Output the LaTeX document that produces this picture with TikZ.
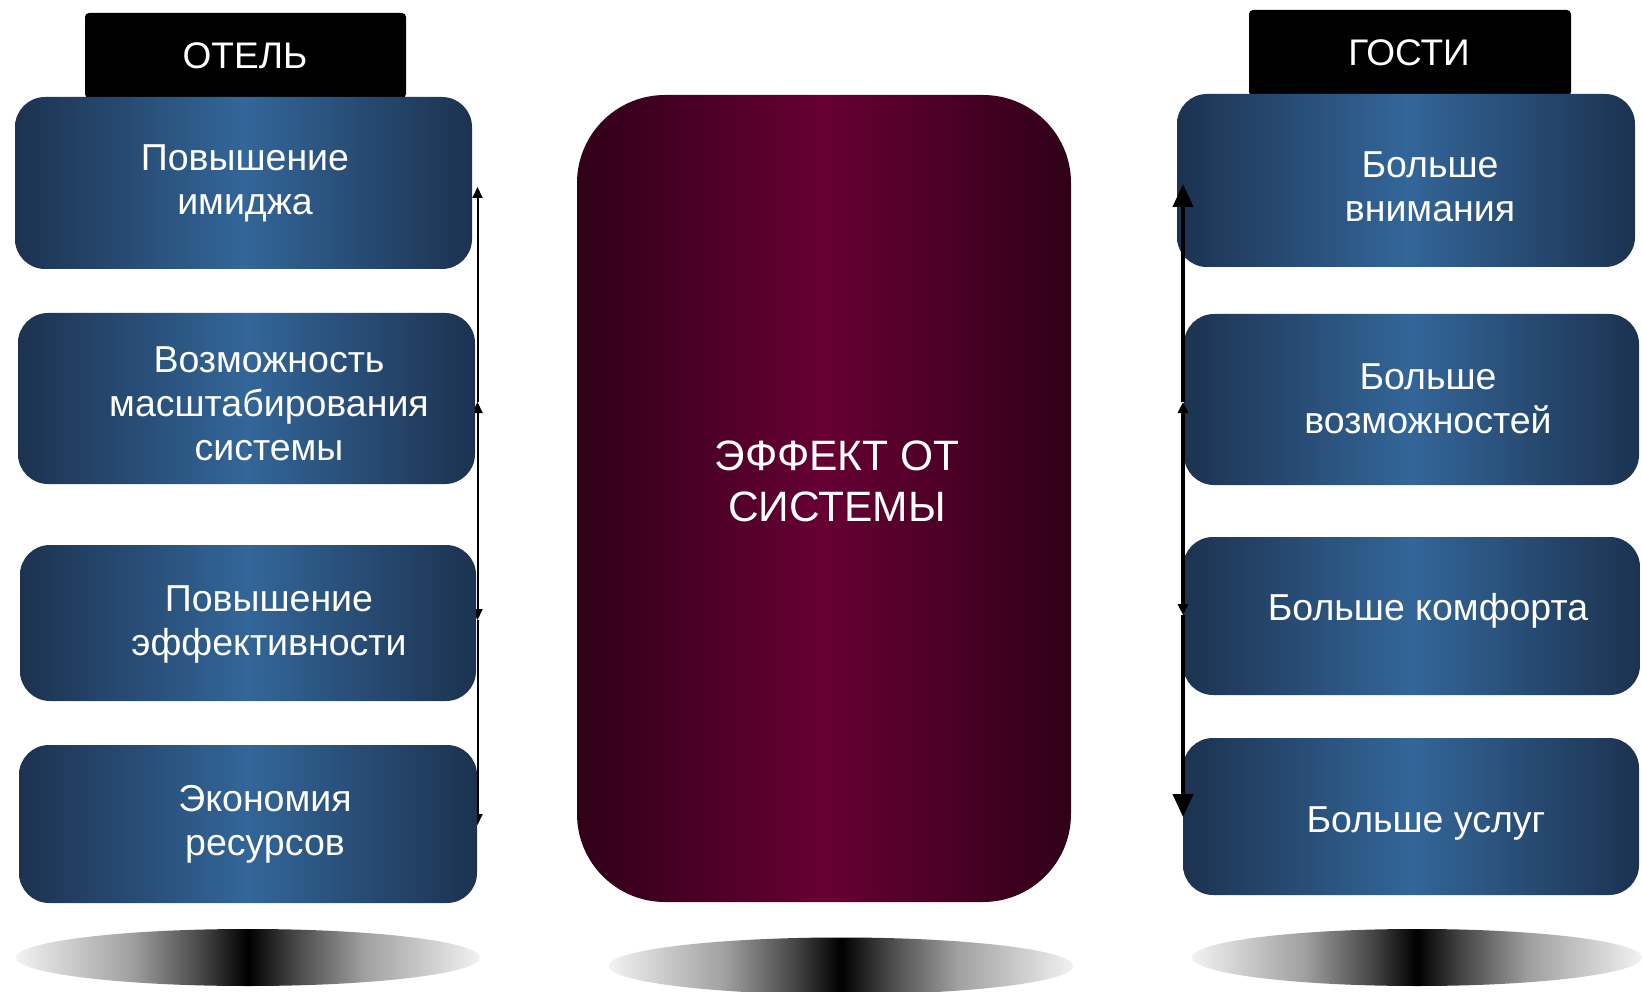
\documentclass[tikz,border=0pt]{standalone}
\usepackage{fontspec}
\setmainfont{Liberation Sans}
\usetikzlibrary{arrows.meta,shapes.geometric}
\pgfdeclarelayer{back}
\pgfdeclarelayer{bg}
\pgfsetlayers{back,bg,main}
\definecolor{navyD}{RGB}{28,50,80}
\definecolor{navyL}{RGB}{51,102,153}
\definecolor{wineD}{RGB}{48,0,24}
\definecolor{wineL}{RGB}{102,0,51}
\definecolor{edgegray}{RGB}{242,242,242}
\definecolor{qgray}{RGB}{160,160,160}
\definecolor{igray}{RGB}{70,70,70}
\pgfdeclarehorizontalshading{shadowsh}{100bp}{color(0bp)=(edgegray); color(25bp)=(edgegray); color(37.5bp)=(qgray); color(45bp)=(igray); color(50bp)=(black); color(55bp)=(igray); color(62.5bp)=(qgray); color(75bp)=(edgegray); color(100bp)=(edgegray)}
\begin{document}
\begin{tikzpicture}[x=1pt,y=-1pt,
  bluebox/.style={rounded corners=30pt, left color=navyD, right color=navyD, middle color=navyL, inner sep=0pt},
  winebox/.style={rounded corners=88pt, left color=wineD, right color=wineD, middle color=wineL, inner sep=0pt},
  headbox/.style={fill=black, rounded corners=4pt, inner sep=0pt},
  boxtext/.style={text=white, align=center, inner sep=0pt, font=\fontsize{37.5}{44}\selectfont},
  headtext/.style={text=white, inner sep=0pt, font=\fontsize{37}{44}\selectfont},
  shadow/.style={ellipse, inner sep=0pt, shading=shadowsh},
  thinline/.style={line width=2pt},
  thickline/.style={line width=4pt},
  smalltip/.style={-{Triangle[width=10pt,length=11pt]}},
  bigtip/.style={-{Triangle[width=20pt,length=23pt]}}
]
\useasboundingbox (0,0) rectangle (1642,992);
\begin{pgfonlayer}{back}
\fill[white] (0,0) rectangle (1642,992);
\end{pgfonlayer}

% headers
\node[headbox, minimum width=321pt, minimum height=85pt] (hl) at (245.5,55.5) {};
\node[headtext] (hlt) at (245,56) {ОТЕЛЬ};
\node[headbox, minimum width=322pt, minimum height=86pt] (hr) at (1410,53) {};
\node[headtext] (hrt) at (1409,53) {ГОСТИ};

% left boxes
\node[bluebox, minimum width=457pt, minimum height=172pt] (l1) at (243.5,183) {};
\node[bluebox, minimum width=457pt, minimum height=171pt] (l2) at (246.5,398.5) {};
\node[bluebox, minimum width=456pt, minimum height=156pt] (l3) at (248,623) {};
\node[bluebox, minimum width=458pt, minimum height=158pt] (l4) at (248,824) {};
\node[boxtext] (l1t) at (245,183) {Повышение\\имиджа};
\node[boxtext] (l2t) at (269,404) {Возможность\\масштабирования\\системы};
\node[boxtext] (l3t) at (269,624) {Повышение\\эффективности};
\node[boxtext] (l4t) at (265,824) {Экономия\\ресурсов};

% centre
\node[winebox, minimum width=494pt, minimum height=807pt] (c) at (824,498.5) {};
\node[boxtext, font=\fontsize{42.5}{51}\selectfont] (ct) at (837,481) {ЭФФЕКТ ОТ\\СИСТЕМЫ};

% right boxes
\node[bluebox, minimum width=458pt, minimum height=173pt] (r1) at (1406,180.5) {};
\node[bluebox, minimum width=455pt, minimum height=171pt] (r2) at (1411.5,399.5) {};
\node[bluebox, minimum width=457pt, minimum height=158pt] (r3) at (1411.5,616) {};
\node[bluebox, minimum width=456pt, minimum height=157pt] (r4) at (1411,816.5) {};
\node[boxtext] (r1t) at (1430,187) {Больше\\внимания};
\node[boxtext] (r2t) at (1428,398.5) {Больше\\возможностей};
\node[boxtext] (r3t) at (1428,611) {Больше комфорта};
\node[boxtext] (r4t) at (1426,823) {Больше услуг};

% shadows
\node[shadow, minimum width=464pt, minimum height=57pt] (e1) at (248,957.5) {};
\node[shadow, minimum width=465pt, minimum height=57pt] (e2) at (841,966) {};
\node[shadow, minimum width=450pt, minimum height=57pt] (e3) at (1417,957.5) {};

% connectors
\coordinate (la) at (477.5,187);
\coordinate (lb) at (477.5,402);
\coordinate (lm) at (477.5,510);
\coordinate (lc) at (477.5,620);
\coordinate (ld) at (477.5,825);
\coordinate (ra) at (1183,184);
\coordinate (rb) at (1183,402);
\coordinate (rm) at (1183,510);
\coordinate (rc) at (1183,615);
\coordinate (rd) at (1183,817);
\begin{pgfonlayer}{bg}
\draw[thinline, smalltip] (lb) -- (la);
\draw[thinline, smalltip] (lm) -- (lb);
\draw[thinline, smalltip] (lm) -- (lc);
\draw[thinline, smalltip] (lc) -- (ld);
\end{pgfonlayer}
\draw[thickline, bigtip] (rb) -- (ra);
\draw[thickline, smalltip] (rm) -- (rb);
\draw[thickline, smalltip] (rm) -- (rc);
\draw[thickline, bigtip] (rc) -- (rd);
\end{tikzpicture}
\end{document}
